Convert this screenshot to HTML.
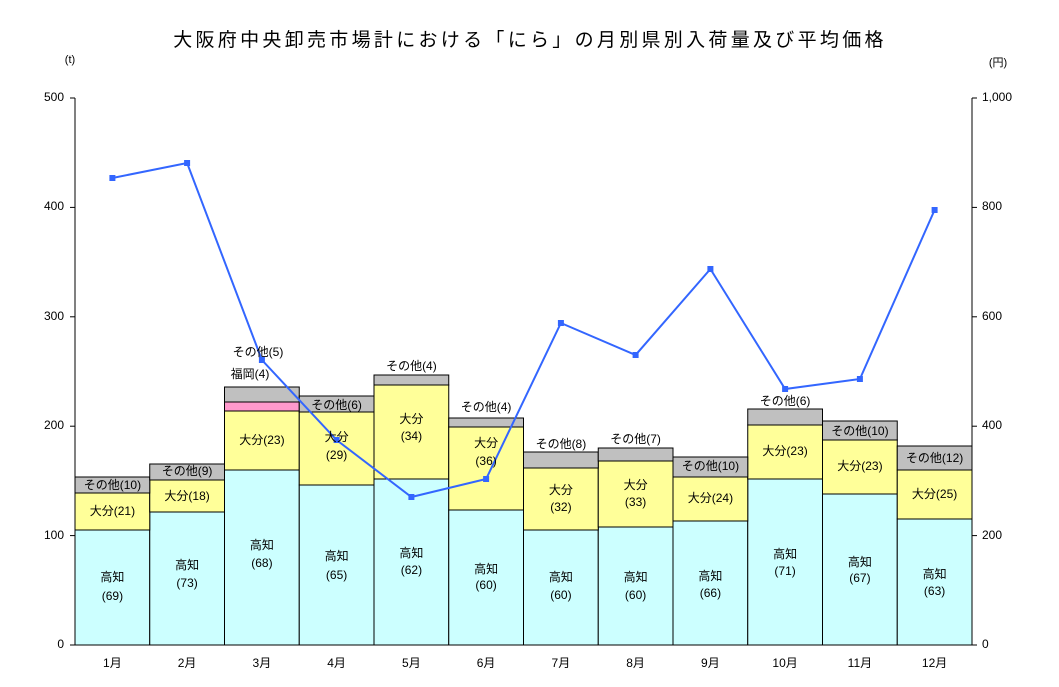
<!DOCTYPE html>
<html><head><meta charset="utf-8"><style>
body{margin:0;background:#fff}
svg text{font-family:"Liberation Sans","Noto Sans CJK JP",sans-serif;font-size:12px;fill:#000}
</style></head><body>
<svg width="1059" height="682" xmlns="http://www.w3.org/2000/svg">
<rect width="1059" height="682" fill="#fff"/>
<text x="530" y="46" text-anchor="middle" style="font-size:19px;letter-spacing:3.3px">大阪府中央卸売市場計における「にら」の月別県別入荷量及び平均価格</text>
<text x="70" y="63" text-anchor="middle" style="font-size:11px">(t)</text>
<text x="998" y="66" text-anchor="middle" style="font-size:11px">(円)</text>
<g stroke="#000" stroke-width="1">
<g fill="#ccffff">
<rect x="75" y="530" width="74.75" height="115"/>
<rect x="149.75" y="512" width="74.75" height="133"/>
<rect x="224.5" y="470" width="74.75" height="175"/>
<rect x="299.25" y="485" width="74.75" height="160"/>
<rect x="374" y="479" width="74.75" height="166"/>
<rect x="448.75" y="510" width="74.75" height="135"/>
<rect x="523.5" y="530" width="74.75" height="115"/>
<rect x="598.25" y="527" width="74.75" height="118"/>
<rect x="673" y="521" width="74.75" height="124"/>
<rect x="747.75" y="479" width="74.75" height="166"/>
<rect x="822.5" y="494" width="74.75" height="151"/>
<rect x="897.25" y="519" width="74.75" height="126"/>
</g>
<g fill="#ffff99">
<rect x="75" y="493" width="74.75" height="37"/>
<rect x="149.75" y="480" width="74.75" height="32"/>
<rect x="224.5" y="411" width="74.75" height="59"/>
<rect x="299.25" y="412" width="74.75" height="73"/>
<rect x="374" y="385" width="74.75" height="94"/>
<rect x="448.75" y="427" width="74.75" height="83"/>
<rect x="523.5" y="468" width="74.75" height="62"/>
<rect x="598.25" y="461" width="74.75" height="66"/>
<rect x="673" y="477" width="74.75" height="44"/>
<rect x="747.75" y="425" width="74.75" height="54"/>
<rect x="822.5" y="440" width="74.75" height="54"/>
<rect x="897.25" y="470" width="74.75" height="49"/>
</g>
<rect x="224.5" y="402" width="74.75" height="9" fill="#ff99cc"/>
<g fill="#c0c0c0">
<rect x="75" y="477" width="74.75" height="16"/>
<rect x="149.75" y="464" width="74.75" height="16"/>
<rect x="224.5" y="387" width="74.75" height="15"/>
<rect x="299.25" y="396" width="74.75" height="16"/>
<rect x="374" y="375" width="74.75" height="10"/>
<rect x="448.75" y="418" width="74.75" height="9"/>
<rect x="523.5" y="452" width="74.75" height="16"/>
<rect x="598.25" y="448" width="74.75" height="13"/>
<rect x="673" y="457" width="74.75" height="20"/>
<rect x="747.75" y="409" width="74.75" height="16"/>
<rect x="822.5" y="421" width="74.75" height="19"/>
<rect x="897.25" y="446" width="74.75" height="24"/>
</g>
</g>
<g stroke="#000" stroke-width="1" fill="none">
<line x1="75" y1="98" x2="75" y2="645"/>
<line x1="972" y1="98" x2="972" y2="645"/>
<line x1="75" y1="645" x2="972" y2="645"/>
<line x1="70" y1="98" x2="75" y2="98"/><line x1="70" y1="207.4" x2="75" y2="207.4"/><line x1="70" y1="316.8" x2="75" y2="316.8"/><line x1="70" y1="426.2" x2="75" y2="426.2"/><line x1="70" y1="535.6" x2="75" y2="535.6"/><line x1="70" y1="645" x2="75" y2="645"/>
<line x1="972" y1="98" x2="977" y2="98"/><line x1="972" y1="207.4" x2="977" y2="207.4"/><line x1="972" y1="316.8" x2="977" y2="316.8"/><line x1="972" y1="426.2" x2="977" y2="426.2"/><line x1="972" y1="535.6" x2="977" y2="535.6"/><line x1="972" y1="645" x2="977" y2="645"/>
</g>
<g text-anchor="end" dominant-baseline="middle">
<text x="64" y="98">500</text><text x="64" y="207">400</text><text x="64" y="317">300</text><text x="64" y="426">200</text><text x="64" y="536">100</text><text x="64" y="645">0</text>
</g>
<g text-anchor="start" dominant-baseline="middle">
<text x="982" y="98">1,000</text><text x="982" y="207">800</text><text x="982" y="317">600</text><text x="982" y="426">400</text><text x="982" y="536">200</text><text x="982" y="645">0</text>
</g>
<g text-anchor="middle" dominant-baseline="middle">
<text x="112.4" y="664">1月</text><text x="187.1" y="664">2月</text><text x="261.9" y="664">3月</text><text x="336.6" y="664">4月</text><text x="411.4" y="664">5月</text><text x="486.1" y="664">6月</text><text x="560.9" y="664">7月</text><text x="635.6" y="664">8月</text><text x="710.4" y="664">9月</text><text x="785.1" y="664">10月</text><text x="859.9" y="664">11月</text><text x="934.6" y="664">12月</text>
</g>
<polyline fill="none" stroke="#3366ff" stroke-width="2" points="112.4,178 187.1,163 261.9,360 336.6,440 411.4,497 486.1,479 560.9,323 635.6,355 710.4,269 785.1,389 859.9,379 934.6,210"/>
<g fill="#3366ff">
<rect x="109.4" y="175" width="6" height="6"/><rect x="184.1" y="160" width="6" height="6"/><rect x="258.9" y="357" width="6" height="6"/><rect x="333.6" y="437" width="6" height="6"/><rect x="408.4" y="494" width="6" height="6"/><rect x="483.1" y="476" width="6" height="6"/><rect x="557.9" y="320" width="6" height="6"/><rect x="632.6" y="352" width="6" height="6"/><rect x="707.4" y="266" width="6" height="6"/><rect x="782.1" y="386" width="6" height="6"/><rect x="856.9" y="376" width="6" height="6"/><rect x="931.6" y="207" width="6" height="6"/>
</g>
<g text-anchor="middle" dominant-baseline="middle">
<text x="112.4" y="578">高知</text><text x="112.4" y="597">(69)</text><text x="112.4" y="512">大分(21)</text><text x="112.4" y="486">その他(10)</text>
<text x="187.1" y="566">高知</text><text x="187.1" y="584">(73)</text><text x="187.1" y="497">大分(18)</text><text x="187.1" y="472">その他(9)</text>
<text x="261.9" y="546">高知</text><text x="261.9" y="564">(68)</text><text x="261.9" y="441">大分(23)</text><text x="250" y="375">福岡(4)</text><text x="258" y="353">その他(5)</text>
<text x="336.6" y="557">高知</text><text x="336.6" y="576">(65)</text><text x="336.6" y="438">大分</text><text x="336.6" y="456">(29)</text><text x="336.6" y="406">その他(6)</text>
<text x="411.4" y="554">高知</text><text x="411.4" y="571">(62)</text><text x="411.4" y="420">大分</text><text x="411.4" y="437">(34)</text><text x="411.4" y="367">その他(4)</text>
<text x="486.1" y="570">高知</text><text x="486.1" y="586">(60)</text><text x="486.1" y="444">大分</text><text x="486.1" y="462">(36)</text><text x="486.1" y="408">その他(4)</text>
<text x="560.9" y="578">高知</text><text x="560.9" y="596">(60)</text><text x="560.9" y="491">大分</text><text x="560.9" y="508">(32)</text><text x="560.9" y="445">その他(8)</text>
<text x="635.6" y="578">高知</text><text x="635.6" y="596">(60)</text><text x="635.6" y="486">大分</text><text x="635.6" y="503">(33)</text><text x="635.6" y="440">その他(7)</text>
<text x="710.4" y="577">高知</text><text x="710.4" y="594">(66)</text><text x="710.4" y="499">大分(24)</text><text x="710.4" y="467">その他(10)</text>
<text x="785.1" y="555">高知</text><text x="785.1" y="572">(71)</text><text x="785.1" y="452">大分(23)</text><text x="785.1" y="402">その他(6)</text>
<text x="859.9" y="563">高知</text><text x="859.9" y="579">(67)</text><text x="859.9" y="467">大分(23)</text><text x="859.9" y="432">その他(10)</text>
<text x="934.6" y="575">高知</text><text x="934.6" y="592">(63)</text><text x="934.6" y="495">大分(25)</text><text x="934.6" y="459">その他(12)</text>
</g>
</svg>
</body></html>
